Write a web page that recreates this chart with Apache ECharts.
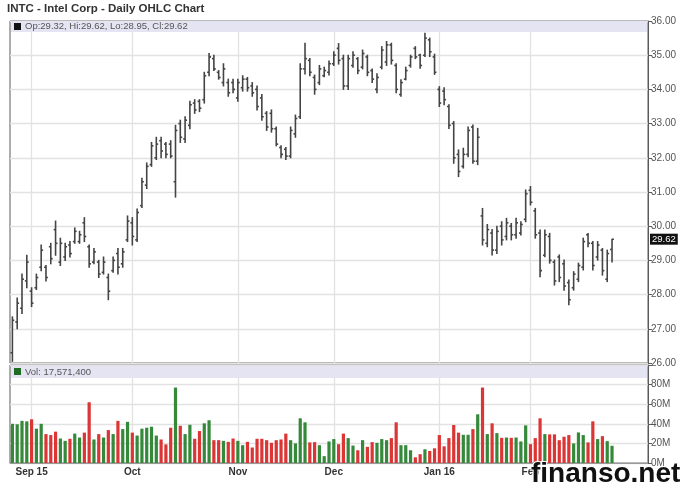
<!DOCTYPE html>
<html>
<head>
<meta charset="utf-8">
<title>INTC - Intel Corp - Daily OHLC Chart</title>
<script src="https://cdn.jsdelivr.net/npm/echarts@6/dist/echarts.min.js"></script>
<style>
  html, body { margin: 0; padding: 0; background: #fff; }
  #chart { width: 688px; height: 503px; }
</style>
</head>
<body>
<div id="chart"></div>
<script>
// trading days shown on the chart
const dates = [
  '2015-08-26', '2015-08-27', '2015-08-28', '2015-08-31',
  '2015-09-01', '2015-09-02', '2015-09-03', '2015-09-04', '2015-09-08', '2015-09-09', '2015-09-10',
  '2015-09-11', '2015-09-14', '2015-09-15', '2015-09-16', '2015-09-17', '2015-09-18', '2015-09-21',
  '2015-09-22', '2015-09-23', '2015-09-24', '2015-09-25', '2015-09-28', '2015-09-29', '2015-09-30',
  '2015-10-01', '2015-10-02', '2015-10-05', '2015-10-06', '2015-10-07', '2015-10-08', '2015-10-09',
  '2015-10-12', '2015-10-13', '2015-10-14', '2015-10-15', '2015-10-16', '2015-10-19', '2015-10-20',
  '2015-10-21', '2015-10-22', '2015-10-23', '2015-10-26', '2015-10-27', '2015-10-28', '2015-10-29',
  '2015-10-30',
  '2015-11-02', '2015-11-03', '2015-11-04', '2015-11-05', '2015-11-06', '2015-11-09', '2015-11-10',
  '2015-11-11', '2015-11-12', '2015-11-13', '2015-11-16', '2015-11-17', '2015-11-18', '2015-11-19',
  '2015-11-20', '2015-11-23', '2015-11-24', '2015-11-25', '2015-11-27', '2015-11-30',
  '2015-12-01', '2015-12-02', '2015-12-03', '2015-12-04', '2015-12-07', '2015-12-08', '2015-12-09',
  '2015-12-10', '2015-12-11', '2015-12-14', '2015-12-15', '2015-12-16', '2015-12-17', '2015-12-18',
  '2015-12-21', '2015-12-22', '2015-12-23', '2015-12-24', '2015-12-28', '2015-12-29', '2015-12-30',
  '2015-12-31',
  '2016-01-04', '2016-01-05', '2016-01-06', '2016-01-07', '2016-01-08', '2016-01-11', '2016-01-12',
  '2016-01-13', '2016-01-14', '2016-01-15', '2016-01-19', '2016-01-20', '2016-01-21', '2016-01-22',
  '2016-01-25', '2016-01-26', '2016-01-27', '2016-01-28', '2016-01-29',
  '2016-02-01', '2016-02-02', '2016-02-03', '2016-02-04', '2016-02-05', '2016-02-08', '2016-02-09',
  '2016-02-10', '2016-02-11', '2016-02-12', '2016-02-16', '2016-02-17', '2016-02-18', '2016-02-19',
  '2016-02-22', '2016-02-23', '2016-02-24', '2016-02-25'
]

// empty slots the chart keeps on the right of the last bar
const emptySlots = ['', '', '', '', '', '', '']

// OHLC (USD)
const openPrices = [
  26.30, 27.20, 27.60, 28.40, 28.10, 28.20, 28.80, 28.80, 29.40, 29.90, 28.95, 29.10, 29.45, 29.55,
  29.55, 30.10, 29.40, 28.95, 28.95, 28.65, 28.50, 28.70, 29.20, 28.90, 29.60,
  30.10, 29.60, 30.60, 31.20, 31.80, 32.00, 32.50, 32.40, 32.40, 31.30, 33.00, 32.55, 32.95, 33.60,
  33.65, 33.70, 34.50, 34.90, 34.50, 34.20, 34.20, 34.20,
  33.75, 34.05, 34.30, 34.10, 34.00, 33.75, 33.30, 33.30, 32.85, 32.30, 32.25, 32.05, 32.70, 33.20,
  34.60, 34.85, 34.35, 34.20, 34.40, 34.50,
  34.75, 35.20, 34.90, 34.10, 34.70, 34.90, 34.65, 34.95, 34.55, 34.00, 34.65, 34.80, 35.30, 34.70,
  33.85, 34.30, 34.70, 35.20, 35.00, 35.00, 35.45, 34.95,
  34.00, 33.95, 33.50, 33.00, 32.10, 31.75, 32.10, 32.90, 31.90, 30.30, 29.50, 29.80, 29.30, 30.00,
  29.70, 30.00, 29.75, 29.80, 30.20,
  31.05, 30.45, 29.80, 29.15, 29.70, 28.95, 29.10, 28.90, 28.35, 28.20, 28.45, 28.80, 29.75, 29.50,
  29.10, 29.30, 28.45, 29.32
]
const highPrices = [
  27.35, 27.90, 28.60, 29.15, 28.20, 28.60, 29.45, 28.85, 29.50, 30.15, 29.65, 29.50, 29.55, 29.95,
  29.85, 30.25, 29.45, 29.35, 29.00, 29.10, 28.60, 29.10, 29.35, 29.35, 30.30,
  30.25, 30.50, 31.40, 31.85, 32.45, 32.60, 32.60, 32.45, 32.50, 32.95, 33.10, 33.20, 33.65, 33.70,
  33.70, 34.50, 35.05, 35.00, 34.55, 34.75, 34.30, 34.30,
  34.30, 34.40, 34.35, 34.20, 34.10, 33.85, 33.35, 33.40, 32.90, 32.35, 32.30, 32.90, 33.25, 34.75,
  35.35, 34.90, 34.42, 34.70, 34.65, 34.83,
  35.10, 35.34, 35.00, 35.00, 35.10, 34.93, 35.15, 35.00, 34.60, 34.46, 35.25, 35.40, 35.35, 34.75,
  34.28, 34.65, 35.00, 35.25, 35.03, 35.64, 35.50, 35.03,
  34.08, 34.05, 33.55, 33.06, 32.23, 32.28, 32.90, 32.96, 32.86, 30.52, 30.05, 29.90, 30.00, 30.13,
  30.23, 30.08, 30.23, 30.13, 31.06,
  31.16, 30.52, 29.89, 29.89, 29.79, 29.01, 29.16, 29.01, 28.43, 28.67, 28.92, 29.65, 29.79, 29.55,
  29.55, 29.35, 29.30, 29.62
]
const lowPrices = [
  26.05, 27.00, 27.45, 28.20, 27.65, 28.15, 28.70, 28.40, 28.90, 29.15, 28.85, 29.00, 29.10, 29.50,
  29.50, 29.55, 28.80, 28.90, 28.50, 28.60, 27.85, 28.65, 28.60, 28.80, 29.55,
  29.45, 29.55, 30.55, 31.10, 31.75, 31.95, 32.00, 32.00, 32.00, 30.85, 32.45, 32.45, 32.85, 33.30,
  33.35, 33.60, 34.40, 34.55, 34.30, 34.10, 33.80, 33.90,
  33.65, 33.95, 33.95, 33.80, 33.40, 33.10, 32.80, 32.75, 32.35, 32.00, 31.95, 32.00, 32.60, 33.15,
  34.45, 34.40, 33.86, 34.14, 34.37, 34.42,
  34.70, 34.74, 34.00, 34.00, 34.65, 34.46, 34.60, 34.40, 34.20, 33.90, 34.60, 34.70, 34.74, 33.90,
  33.80, 34.28, 34.65, 34.90, 34.62, 34.96, 34.96, 34.44,
  33.50, 33.55, 32.86, 31.84, 31.45, 31.70, 32.03, 31.84, 31.80, 29.45, 29.40, 29.16, 29.20, 29.45,
  29.60, 29.60, 29.65, 29.74, 30.13,
  30.62, 29.65, 28.52, 29.11, 28.92, 28.28, 28.38, 28.13, 27.70, 28.13, 28.38, 28.72, 29.40, 28.72,
  29.01, 28.57, 28.38, 28.95
]
const closePrices = [
  27.25, 27.75, 28.45, 28.95, 27.75, 28.50, 29.30, 28.50, 29.05, 29.50, 29.50, 29.40, 29.20, 29.85,
  29.75, 29.70, 28.90, 29.25, 28.60, 28.95, 28.10, 29.00, 28.80, 29.25, 30.15,
  29.70, 30.40, 31.30, 31.75, 32.35, 32.40, 32.20, 32.10, 32.05, 32.80, 32.60, 33.10, 33.55, 33.40,
  33.45, 34.40, 34.95, 34.60, 34.35, 34.60, 33.90, 34.00,
  34.20, 34.30, 34.05, 33.90, 33.50, 33.20, 32.90, 32.85, 32.40, 32.10, 32.05, 32.80, 33.15, 34.60,
  34.90, 34.50, 34.00, 34.60, 34.55, 34.75,
  35.00, 34.85, 34.10, 34.90, 35.00, 34.55, 35.05, 34.50, 34.30, 34.35, 35.15, 35.30, 34.85, 34.00,
  34.20, 34.55, 34.95, 34.95, 34.70, 35.50, 35.10, 34.50,
  33.60, 33.70, 32.95, 32.00, 31.60, 32.10, 32.80, 31.90, 32.60, 29.60, 29.90, 29.30, 29.85, 29.60,
  30.10, 29.75, 30.10, 30.05, 30.95,
  30.70, 29.75, 28.70, 29.75, 29.00, 28.40, 28.50, 28.25, 27.85, 28.60, 28.85, 29.55, 29.50, 28.85,
  29.45, 28.70, 29.20, 29.62
]

// volume (millions of shares)
const volumes = [
  40.0, 39.5, 43.0, 42.5, 44.6, 35.0, 40.0, 29.5, 28.5, 32.0, 25.0, 22.6, 24.7, 30.0,
  26.0, 31.0, 62.0, 24.0, 29.5, 26.0, 33.6, 29.5, 43.0, 34.6, 42.0,
  31.0, 28.0, 35.0, 36.0, 37.0, 28.0, 24.0, 19.0, 36.0, 77.0, 38.0, 29.5, 39.0, 24.7,
  32.6, 40.5, 43.6, 23.3, 23.3, 22.6, 21.6, 25.0,
  22.6, 18.2, 21.6, 15.8, 24.7, 24.7, 23.3, 20.6, 23.3, 24.0, 30.0, 23.3, 20.0, 45.6,
  41.5, 21.0, 21.3, 18.2, 7.0, 22.0,
  24.4, 19.2, 30.0, 25.4, 17.8, 13.0, 23.3, 16.5, 21.3, 20.6, 24.4, 23.3, 25.4, 41.5,
  18.2, 18.2, 13.0, 5.8, 9.0, 14.0, 12.3, 15.0,
  28.5, 17.0, 25.4, 38.8, 31.0, 28.8, 28.8, 34.6, 49.7, 77.0, 29.5, 40.5, 30.5, 25.7,
  26.0, 25.7, 26.0, 22.0, 38.4,
  19.2, 25.4, 45.6, 29.5, 29.2, 29.2, 23.3, 26.8, 28.5, 20.0, 31.2, 28.5, 21.0, 42.5,
  24.4, 27.4, 22.3, 17.5714
]

// price and volume axes
const priceMin = 26
const priceMax = 36
const priceStep = 1
const volumeMax = 100
const volumeStep = 20

const monthNames = ['Jan', 'Feb', 'Mar', 'Apr', 'May', 'Jun', 'Jul', 'Aug', 'Sep', 'Oct', 'Nov', 'Dec']

const axisDates = dates.concat(emptySlots)
const last = dates.length - 1

// first trading day of a month (not the very first bar)
const isMonthStart = (index) => {
  if (index <= 0 || !axisDates[index]) return false
  return axisDates[index].slice(0, 7) !== axisDates[index - 1].slice(0, 7)
}
let firstLabel = -1
for (let i = 0; i < axisDates.length; i++) {
  if (isMonthStart(i)) { firstLabel = i; break }
}

const monthLabel = (value, index) => {
  if (!value) return ''
  const m = Number(value.slice(5, 7)) - 1
  const yy = value.slice(2, 4)
  if (index === firstLabel || m === 0) return monthNames[m] + ' ' + yy
  return monthNames[m]
}

const font = 'Liberation Sans, Arial, sans-serif'
const barColor = '#444'
const upColor = '#35893a'
const downColor = '#db3535'

const ohlcData = dates.map((d, i) => [i, openPrices[i], highPrices[i], lowPrices[i], closePrices[i]])
const volumeData = volumes.map((v, i) => ({
  value: v,
  itemStyle: { color: closePrices[i] >= openPrices[i] ? upColor : downColor }
}))

// draw one OHLC bar: high-low line, open tick left, close tick right
const renderOhlc = (params, api) => {
  const x = api.value(0)
  const o = api.coord([x, api.value(1)])
  const h = api.coord([x, api.value(2)])
  const l = api.coord([x, api.value(3)])
  const c = api.coord([x, api.value(4)])
  const w = Math.max(1.5, api.size([1, 0])[0] * 0.4)
  const style = { stroke: barColor, lineWidth: 1.6 }
  return {
    type: 'group',
    children: [
      { type: 'line', shape: { x1: h[0], y1: h[1] - 0.5, x2: l[0], y2: l[1] + 0.5 }, style },
      { type: 'line', shape: { x1: o[0] - w, y1: o[1], x2: o[0], y2: o[1] }, style },
      { type: 'line', shape: { x1: c[0], y1: c[1], x2: c[0] + w, y2: c[1] }, style }
    ]
  }
}

const lastVolText = Math.round(volumes[last] * 1e6).toLocaleString('en-US')
const headerText = 'Op:' + openPrices[last].toFixed(2) + ', Hi:' + highPrices[last].toFixed(2) +
  ', Lo:' + lowPrices[last].toFixed(2) + ', Cl:' + closePrices[last].toFixed(2)

const chart = echarts.init(document.getElementById('chart'))

const option = {
  animation: false,
  backgroundColor: '#fff',
  textStyle: { fontFamily: font },
  title: {
    text: 'INTC - Intel Corp - Daily OHLC Chart',
    left: 7,
    top: 3,
    padding: 0,
    textStyle: { fontSize: 11.5, fontWeight: 'bold', color: '#333', fontFamily: font }
  },
  grid: [
    { left: 10, top: 21, width: 638, height: 342, show: true, borderColor: '#5a5a5a', borderWidth: 1, backgroundColor: '#fff' },
    { left: 10, top: 365, width: 638, height: 98, show: true, borderColor: '#5a5a5a', borderWidth: 1, backgroundColor: '#fff' }
  ],
  xAxis: [
    {
      type: 'category',
      gridIndex: 0,
      data: axisDates,
      boundaryGap: true,
      axisLine: { show: false },
      axisTick: { show: false },
      axisLabel: { show: false },
      splitLine: {
        show: true,
        alignWithLabel: true,
        interval: (index) => isMonthStart(index),
        lineStyle: { color: '#e2e2e2', width: 1.3 }
      }
    },
    {
      type: 'category',
      gridIndex: 1,
      data: axisDates,
      boundaryGap: true,
      axisLine: { show: true, lineStyle: { color: '#9a9a9a' } },
      axisTick: { show: false },
      axisLabel: {
        show: true,
        interval: (index) => isMonthStart(index),
        formatter: monthLabel,
        margin: 4,
        fontSize: 10,
        fontWeight: 'bold',
        color: '#333',
        fontFamily: font
      },
      splitLine: {
        show: true,
        alignWithLabel: true,
        interval: (index) => isMonthStart(index),
        lineStyle: { color: '#e2e2e2', width: 1.3 }
      }
    }
  ],
  yAxis: [
    {
      type: 'value',
      gridIndex: 0,
      position: 'right',
      min: priceMin,
      max: priceMax,
      interval: priceStep,
      axisLine: { show: true, lineStyle: { color: '#5a5a5a' } },
      axisTick: { show: true, length: 4, lineStyle: { color: '#5a5a5a' } },
      axisLabel: {
        formatter: (v) => v.toFixed(2),
        margin: 3,
        fontSize: 10,
        color: '#555',
        fontFamily: font
      },
      splitLine: { show: true, lineStyle: { color: '#e2e2e2', width: 1.3 } }
    },
    {
      type: 'value',
      gridIndex: 1,
      position: 'right',
      min: 0,
      max: volumeMax,
      interval: volumeStep,
      axisLine: { show: true, lineStyle: { color: '#5a5a5a' } },
      axisTick: { show: true, length: 4, lineStyle: { color: '#5a5a5a' } },
      axisLabel: {
        formatter: (v) => (v >= volumeMax ? '' : v + 'M'),
        margin: 3,
        fontSize: 10,
        color: '#555',
        fontFamily: font
      },
      splitLine: { show: true, lineStyle: { color: '#e2e2e2', width: 1.3 } }
    }
  ],
  series: [
    {
      name: 'INTC',
      type: 'custom',
      xAxisIndex: 0,
      yAxisIndex: 0,
      renderItem: renderOhlc,
      encode: { x: 0, y: [1, 2, 3, 4] },
      data: ohlcData,
      z: 3,
      markLine: {
        silent: true,
        symbol: ['none', 'none'],
        lineStyle: { color: 'rgba(0,0,0,0)', width: 1, type: 'solid' },
        label: {
          show: true,
          position: 'end',
          distance: 2,
          formatter: () => closePrices[last].toFixed(2),
          backgroundColor: '#111',
          color: '#fff',
          fontSize: 9.5,
          padding: [1, 2, 0, 2],
          fontFamily: font
        },
        data: [{ yAxis: closePrices[last] }]
      }
    },
    {
      name: 'Volume',
      type: 'bar',
      xAxisIndex: 1,
      yAxisIndex: 1,
      data: volumeData,
      barWidth: 3.2,
      z: 3
    }
  ],
  graphic: [
    // price header band
    { type: 'rect', left: 11, top: 21, z: 10, shape: { width: 636, height: 11 }, style: { fill: '#e4e4f3' } },
    { type: 'rect', left: 14, top: 23, z: 11, shape: { width: 7, height: 7 }, style: { fill: '#111' } },
    {
      type: 'text', left: 25, top: 21.5, z: 11,
      style: { text: headerText, fill: '#555', font: '9.5px ' + font }
    },
    // volume header band
    { type: 'rect', left: 11, top: 366, z: 10, shape: { width: 636, height: 12 }, style: { fill: '#e4e4f3' } },
    { type: 'rect', left: 14, top: 368, z: 11, shape: { width: 7, height: 7 }, style: { fill: '#1e6b24' } },
    {
      type: 'text', left: 25, top: 367, z: 11,
      style: { text: 'Vol: ' + lastVolText, fill: '#555', font: '9.5px ' + font }
    },
    // watermark
    {
      type: 'text', left: 530, top: 459, z: 20,
      style: {
        text: 'finanso.net',
        fill: '#111',
        font: 'bold 28px ' + font,
        stroke: '#fff',
        lineWidth: 2
      }
    }
  ]
}

chart.setOption(option)
</script>
</body>
</html>
